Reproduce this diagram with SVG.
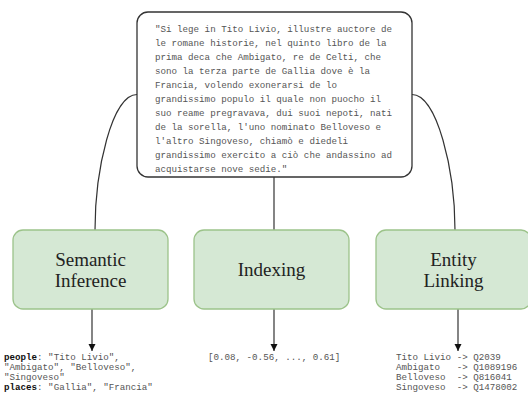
<svg xmlns="http://www.w3.org/2000/svg" width="528" height="405" viewBox="0 0 528 405">
<defs>
<marker id="arr" markerWidth="8" markerHeight="8" refX="7" refY="4" orient="auto" markerUnits="userSpaceOnUse">
<path d="M0,0.5 L7,4 L0,7.5 Z" fill="#111"/>
</marker>
<style>
.mono{font-family:"Liberation Mono","Courier New",monospace;font-size:9.2px;fill:#555;white-space:pre}
.key{font-weight:bold;fill:#111}
.lbl{font-family:"Liberation Serif","Times New Roman",serif;font-size:19px;fill:#222;text-anchor:middle}
.green{fill:#d5e8d4;stroke:#9cc38a;stroke-width:1.3}
.conn{fill:none;stroke:#333;stroke-width:1.2}
</style>
</defs>
<rect width="528" height="405" fill="#fff"/>
<g id="connectors">
<path class="conn" d="M137,94.5 C112,94.5 95,170 95,230"/>
<path class="conn" d="M412,94.5 C437,94.5 455,170 455,230"/>
<path class="conn" d="M274,177 L274,230"/>
<path class="conn" d="M92,309 L92,351" marker-end="url(#arr)"/>
<path class="conn" d="M274,309 L274,351" marker-end="url(#arr)"/>
<path class="conn" d="M458,309 L458,351" marker-end="url(#arr)"/>
</g>
<g id="source-text">
<rect x="137" y="12" width="275" height="165" rx="11" fill="#fff" stroke="#333" stroke-width="1.3"/>
<text class="mono" x="155" y="32">"Si lege in Tito Livio, illustre auctore de</text>
<text class="mono" x="155" y="46">le romane historie, nel quinto libro de la</text>
<text class="mono" x="155" y="60">prima deca che Ambigato, re de Celti, che</text>
<text class="mono" x="155" y="74">sono la terza parte de Gallia dove è la</text>
<text class="mono" x="155" y="88">Francia, volendo exonerarsi de lo</text>
<text class="mono" x="155" y="102">grandissimo populo il quale non puocho il</text>
<text class="mono" x="155" y="116">suo reame pregravava, dui suoi nepoti, nati</text>
<text class="mono" x="155" y="130">de la sorella, l'uno nominato Belloveso e</text>
<text class="mono" x="155" y="144">l'altro Singoveso, chiamò e diedeli</text>
<text class="mono" x="155" y="158">grandissimo exercito a ciò che andassino ad</text>
<text class="mono" x="155" y="172">acquistarse nove sedie."</text>
</g>
<g id="semantic-inference">
<rect class="green" x="13" y="230" width="155" height="79" rx="10"/>
<text class="lbl" x="90.5" y="266">Semantic</text>
<text class="lbl" x="90.5" y="287">Inference</text>
</g>
<g id="indexing">
<rect class="green" x="194" y="230" width="155" height="79" rx="10"/>
<text class="lbl" x="271.5" y="276">Indexing</text>
</g>
<g id="entity-linking">
<rect class="green" x="376" y="230" width="155" height="79" rx="10"/>
<text class="lbl" x="453.5" y="266">Entity</text>
<text class="lbl" x="453.5" y="287">Linking</text>
</g>
<g id="outputs">
<text class="mono" x="4" y="360"><tspan class="key">people</tspan>: "Tito Livio",</text>
<text class="mono" x="4" y="370">"Ambigato", "Belloveso",</text>
<text class="mono" x="4" y="380">"Singoveso"</text>
<text class="mono" x="4" y="390"><tspan class="key">places</tspan>: "Gallia", "Francia"</text>
<text class="mono" x="208" y="360">[0.08, -0.56, ..., 0.61]</text>
<text class="mono" x="396" y="360">Tito Livio -&gt; Q2039</text>
<text class="mono" x="396" y="370">Ambigato   -&gt; Q1089196</text>
<text class="mono" x="396" y="380">Belloveso  -&gt; Q816041</text>
<text class="mono" x="396" y="390">Singoveso  -&gt; Q1478002</text>
</g>
</svg>
